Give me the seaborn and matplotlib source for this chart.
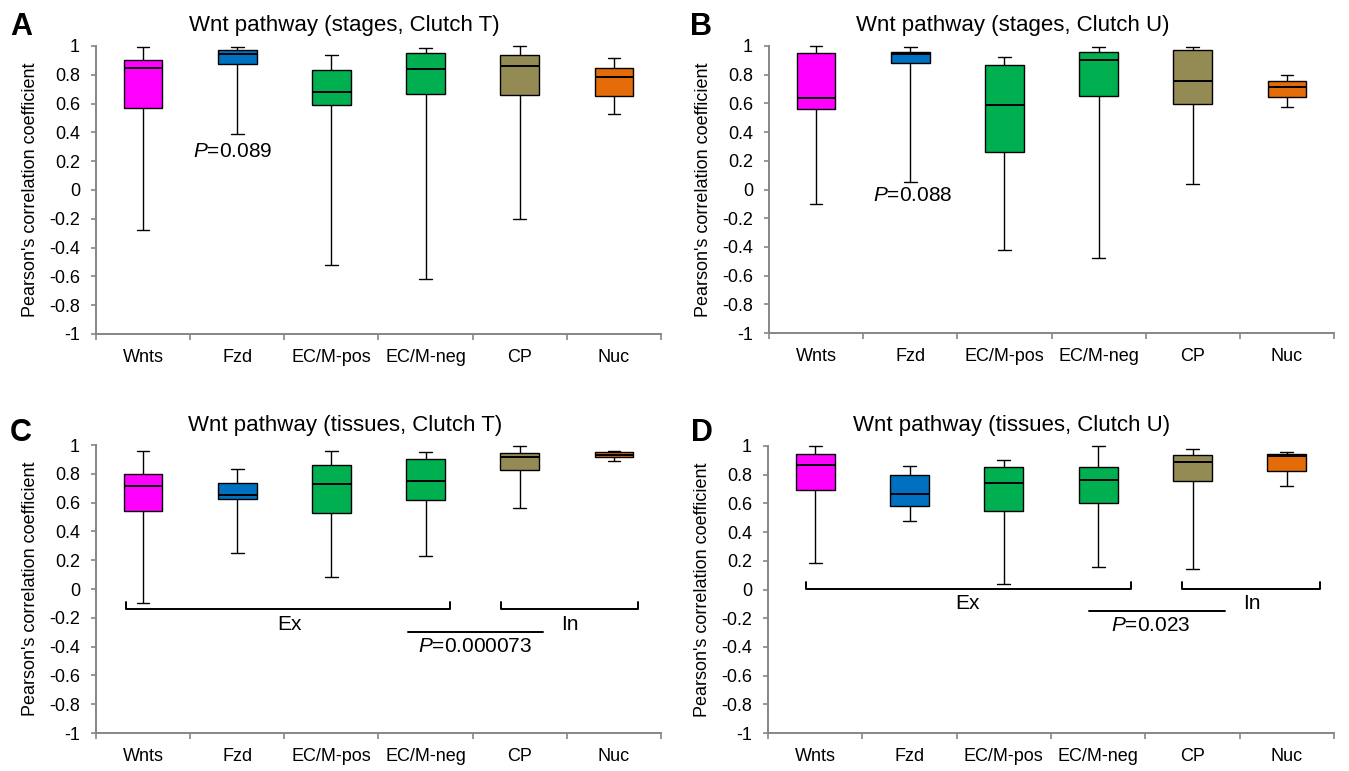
import numpy as np
import pandas as pd
import matplotlib.pyplot as plt
import seaborn as sns
from matplotlib.ticker import FuncFormatter

sns.set_style("white")
plt.rcParams['font.family'] = ['Liberation Sans', 'DejaVu Sans']
plt.rcParams['text.color'] = 'black'
plt.rcParams['axes.labelcolor'] = 'black'
plt.rcParams['xtick.labelcolor'] = 'black'
plt.rcParams['ytick.labelcolor'] = 'black'
plt.rcParams['mathtext.fontset'] = 'custom'
plt.rcParams['mathtext.rm'] = 'Liberation Sans'
plt.rcParams['mathtext.it'] = 'Liberation Sans:italic'

groups = ['Wnts', 'Fzd', 'EC/M-pos', 'EC/M-neg', 'CP', 'Nuc']
colors = ['#FF00FF', '#0070C0', '#00B050', '#00B050', '#948A54', '#E36C09']

# five-number summaries per group: min, Q1, median, Q3, max
stages_T = [[-0.28, 0.57, 0.85, 0.90, 0.995],
            [0.39, 0.875, 0.945, 0.975, 0.99],
            [-0.52, 0.59, 0.68, 0.83, 0.935],
            [-0.62, 0.67, 0.84, 0.95, 0.985],
            [-0.20, 0.66, 0.86, 0.94, 1.0],
            [0.53, 0.655, 0.785, 0.85, 0.915]]
stages_U = [[-0.10, 0.56, 0.64, 0.95, 1.0],
            [0.05, 0.885, 0.945, 0.955, 0.99],
            [-0.42, 0.26, 0.59, 0.87, 0.925],
            [-0.475, 0.65, 0.90, 0.955, 0.995],
            [0.035, 0.595, 0.755, 0.975, 0.995],
            [0.575, 0.645, 0.715, 0.755, 0.80]]
tissues_T = [[-0.10, 0.54, 0.715, 0.80, 0.955],
             [0.25, 0.625, 0.655, 0.735, 0.835],
             [0.08, 0.525, 0.73, 0.86, 0.96],
             [0.23, 0.615, 0.75, 0.905, 0.95],
             [0.56, 0.825, 0.92, 0.945, 0.99],
             [0.89, 0.915, 0.93, 0.95, 0.96]]
tissues_U = [[0.185, 0.69, 0.865, 0.945, 1.0],
             [0.475, 0.585, 0.665, 0.80, 0.86],
             [0.04, 0.545, 0.74, 0.855, 0.90],
             [0.16, 0.60, 0.76, 0.855, 1.0],
             [0.14, 0.755, 0.89, 0.94, 0.98],
             [0.72, 0.825, 0.93, 0.945, 0.955]]

titles = ['Wnt pathway (stages, Clutch T)', 'Wnt pathway (stages, Clutch U)',
          'Wnt pathway (tissues, Clutch T)', 'Wnt pathway (tissues, Clutch U)']
letters = ['A', 'B', 'C', 'D']
p_texts = ['0.089', '0.088', '0.000073', '0.023']

fig = plt.figure(figsize=(13.49, 7.71), dpi=100)
W, H = 1349, 771
# axes boxes in pixels: left, top, right, bottom
boxes = [(96, 46, 661, 334), (769, 46, 1334, 333),
         (96, 445, 661, 733), (768, 446, 1334, 733)]
title_pos = [(344, 26), (1013, 26), (345, 425), (1012, 426)]
letter_pos = [(21, 27), (701, 27), (21, 433), (702, 433)]


def make_panel(ax, summary):
    df = pd.DataFrame({
        'group': np.repeat(groups, 5),
        'r': np.concatenate(summary),
    })
    sns.boxplot(data=df, x='group', y='r', hue='group', order=groups,
                hue_order=groups, palette=colors, saturation=1, legend=False,
                width=0.41, whis=(0, 100), linecolor='black', linewidth=1.0,
                medianprops={'linewidth': 1.4}, ax=ax)
    for c in ax.containers:
        for cap in c.caps:
            mid = np.mean(cap.get_xdata())
            cap.set_xdata([mid - 0.068, mid + 0.068])
    for art in ax.lines + ax.patches:
        art.set_clip_on(False)
    ax.set_ylim(-1, 1)
    ax.set_xlim(-0.5, 5.5)
    ax.set_yticks(np.round(np.arange(-1, 1.01, 0.2), 1))
    ax.yaxis.set_major_formatter(FuncFormatter(lambda v, _: f"{round(v, 1) + 0:g}"))
    ax.set_xticks(range(6))
    ax.set_xticklabels(groups)
    ax.set_xticks(np.arange(-0.5, 6, 1), minor=True)
    ax.tick_params(axis='x', which='major', length=0, labelsize=13, pad=11)
    ax.tick_params(axis='x', which='minor', length=4, width=1.2, color='#868686',
                   direction='out', bottom=True)
    ax.tick_params(axis='y', length=3.5, width=1.2, color='#868686', direction='out',
                   left=True, labelsize=13, pad=8)
    ax.set_xlabel('')
    ax.set_ylabel("Pearson's correlation coefficient", fontsize=13)
    ax.yaxis.set_label_coords(-0.1, 0.5)
    sns.despine(ax=ax)
    for s in ['left', 'bottom']:
        ax.spines[s].set_color('#868686')
        ax.spines[s].set_linewidth(1.4)


panels = [stages_T, stages_U, tissues_T, tissues_U]
axes = []
for i, summary in enumerate(panels):
    l, t, r, b = boxes[i]
    ax = fig.add_axes([l / W, 1 - b / H, (r - l) / W, (b - t) / H])
    make_panel(ax, summary)
    axes.append(ax)
    fig.text(title_pos[i][0] / W, 1 - title_pos[i][1] / H, titles[i],
             fontsize=16, ha='center', va='center')
    fig.text(letter_pos[i][0] / W, 1 - letter_pos[i][1] / H, letters[i],
             fontsize=22, fontweight='bold', ha='center', va='center')

# P-value for Fzd in stage panels
axes[0].text(0.95, 0.27, r'$P$=' + p_texts[0], fontsize=15, ha='center', va='center')
axes[1].text(1.03, -0.045, r'$P$=' + p_texts[1], fontsize=15, ha='center', va='center')

# Ex / In brackets in tissue panels
ex_span = [(-0.18, 3.26), (-0.10, 3.35)]
in_span = [(3.80, 5.26), (3.89, 5.35)]
bracket_y = [-0.14, 0.005]
label_xy = [((1.55, -0.25), (4.53, -0.25)), ((1.62, -0.10), (4.63, -0.10))]
p_line = [(2.81, 4.25, -0.30), (2.90, 4.34, -0.15)]
p_xy = [(3.53, -0.40), (3.56, -0.25)]
for k, ax in enumerate(axes[2:]):
    y = bracket_y[k]
    for x0, x1 in [ex_span[k], in_span[k]]:
        ax.plot([x0, x0, x1, x1], [y + 0.05, y, y, y + 0.05], color='black', lw=1.4)
    ax.text(*label_xy[k][0], 'Ex', fontsize=15, ha='center', va='center')
    ax.text(*label_xy[k][1], 'In', fontsize=15, ha='center', va='center')
    x0, x1, yp = p_line[k]
    ax.plot([x0, x1], [yp, yp], color='black', lw=1.4)
    ax.text(*p_xy[k], r'$P$=' + p_texts[k + 2], fontsize=15, ha='center', va='center')

fig.savefig('out.png', dpi=100)
